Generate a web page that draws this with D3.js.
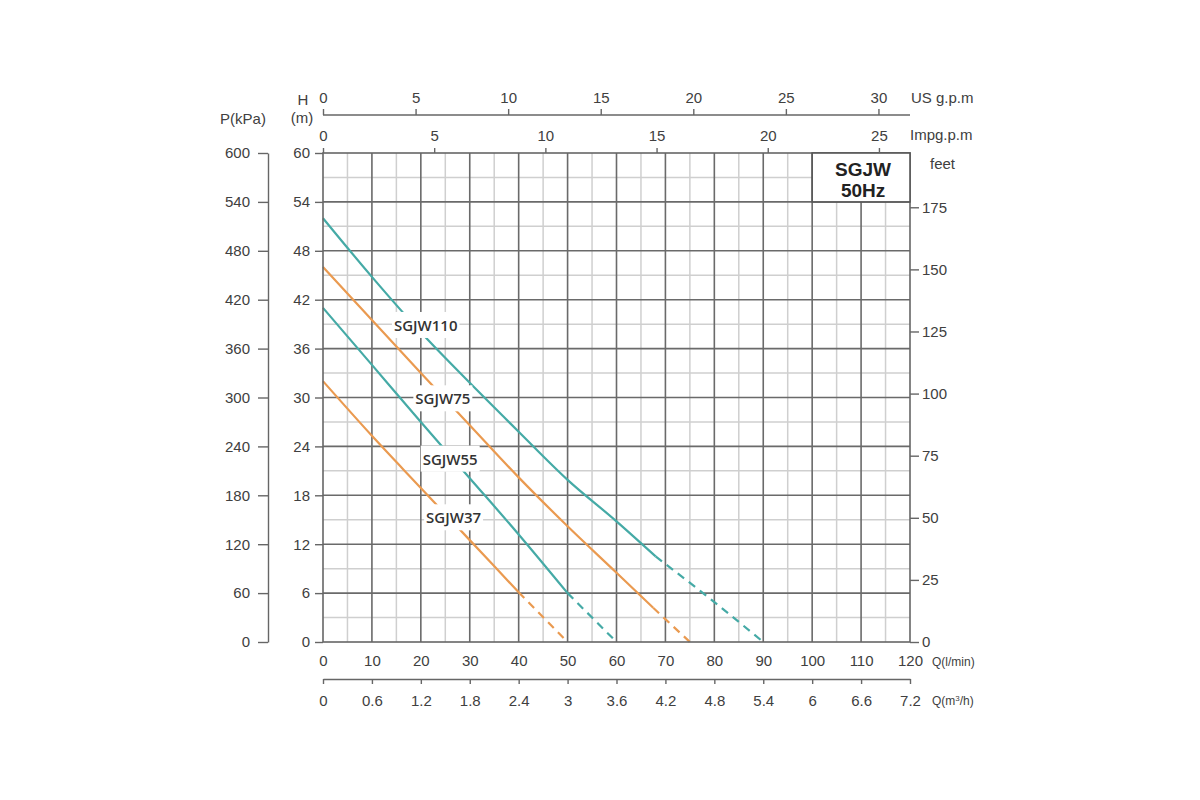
<!DOCTYPE html>
<html>
<head>
<meta charset="utf-8">
<script src="https://cdn.jsdelivr.net/npm/d3@7"></script>
<style>
    body { margin: 0; background: #ffffff; }
    text { font-family: "Liberation Sans", Arial, sans-serif; }
</style>
</head>
<body>
<svg id="pumpSvg" width="1200" height="800"></svg>
<script>
// Pump curves, head H (m) against flow Q (l/min)
const models = ["SGJW110", "SGJW75", "SGJW55", "SGJW37"];
const modelColors = ["#45aaa6", "#ea9a50", "#45aaa6", "#ea9a50"];

const q110 = [0, 10, 20, 30, 40, 50, 60, 68, 80, 90];
const h110 = [52, 44.8, 38, 31.8, 25.8, 19.9, 14.8, 10.5, 4.9, 0];
const q75 = [0, 10, 20, 30, 40, 50, 60, 67.5, 75];
const h75 = [46, 39.5, 33, 26.6, 20.2, 14.2, 8.5, 4.2, 0];
const q55 = [0, 10, 20, 30, 40, 50, 60];
const h55 = [41, 34, 27, 20.1, 13.2, 6, 0];
const q37 = [0, 10, 20, 30, 40, 50];
const h37 = [32, 25.3, 18.9, 12.5, 6.1, 0];

// flow where each curve turns dashed
const dashFrom = [68, 67.5, 50, 40];

// tick labels
const qTicks = [0, 10, 20, 30, 40, 50, 60, 70, 80, 90, 100, 110, 120];
const m3hTicks = [0, 0.6, 1.2, 1.8, 2.4, 3, 3.6, 4.2, 4.8, 5.4, 6, 6.6, 7.2];
const hTicks = [0, 6, 12, 18, 24, 30, 36, 42, 48, 54, 60];
const pTicks = [0, 60, 120, 180, 240, 300, 360, 420, 480, 540, 600];
const feetTicks = [0, 25, 50, 75, 100, 125, 150, 175];
const usTicks = [0, 5, 10, 15, 20, 25, 30];
const impTicks = [0, 5, 10, 15, 20, 25];

// unit conversions
const LPM_PER_USGPM = 3.785;
const LPM_PER_IMPGPM = 4.546;
const M_PER_FOOT = 0.3048;

const curveQ = [q110, q75, q55, q37];
const curveH = [h110, h75, h55, h37];

// label spots (l/min, m) for each curve name
const labelQ = [21, 24.5, 26, 26.7];
const labelH = [38.9, 29.9, 22.5, 15.3];

const svg = d3.select("#pumpSvg");

// plot area
const plotLeft = 323, plotRight = 910, plotTop = 153, plotBottom = 642;

const x = d3.scaleLinear().domain([0, 120]).range([plotLeft, plotRight]);
const y = d3.scaleLinear().domain([0, 60]).range([plotBottom, plotTop]);
const yP = d3.scaleLinear().domain([0, 600]).range([plotBottom, plotTop]);
const yFeet = d3.scaleLinear().domain([0, 60 / M_PER_FOOT]).range([plotBottom, plotTop]);
const xM3h = d3.scaleLinear().domain([0, 7.2]).range([plotLeft, plotRight]);
const xUs = d3.scaleLinear().domain([0, 120 / LPM_PER_USGPM]).range([plotLeft, plotRight]);
const xImp = d3.scaleLinear().domain([0, 120 / LPM_PER_IMPGPM]).range([plotLeft, plotRight]);

const textColor = "#404040";

// Grid: minor lines first, then major ones
const grid = svg.append("g");
d3.range(5, 120, 10).forEach(v => {
    grid.append("line")
        .attr("x1", x(v)).attr("x2", x(v))
        .attr("y1", plotTop).attr("y2", plotBottom)
        .attr("stroke", "#cfcfcf").attr("stroke-width", 1.5);
});
d3.range(3, 60, 6).forEach(v => {
    grid.append("line")
        .attr("x1", plotLeft).attr("x2", plotRight)
        .attr("y1", y(v)).attr("y2", y(v))
        .attr("stroke", "#cfcfcf").attr("stroke-width", 1.5);
});
qTicks.slice(1, -1).forEach(v => {
    grid.append("line")
        .attr("x1", x(v)).attr("x2", x(v))
        .attr("y1", plotTop).attr("y2", plotBottom)
        .attr("stroke", "#6a6a6a").attr("stroke-width", 1.6);
});
hTicks.slice(1, -1).forEach(v => {
    grid.append("line")
        .attr("x1", plotLeft).attr("x2", plotRight)
        .attr("y1", y(v)).attr("y2", y(v))
        .attr("stroke", "#6a6a6a").attr("stroke-width", 1.6);
});

// Pump curves
const line = d3.line()
    .x(d => x(d.q))
    .y(d => y(d.h))
    .curve(d3.curveMonotoneX);

models.forEach((name, i) => {
    const pts = curveQ[i].map((q, j) => ({ q: q, h: curveH[i][j] }));
    const solid = pts.filter(d => d.q <= dashFrom[i]);
    const dashed = pts.filter(d => d.q >= dashFrom[i]);

    svg.append("path")
        .datum(solid)
        .attr("fill", "none")
        .attr("stroke", modelColors[i])
        .attr("stroke-width", 2.2)
        .attr("d", line);

    svg.append("path")
        .datum(dashed)
        .attr("fill", "none")
        .attr("stroke", modelColors[i])
        .attr("stroke-width", 2.2)
        .attr("stroke-dasharray", "8,6")
        .attr("d", line);
});

// Curve names on white patches
models.forEach((name, i) => {
    const g = svg.append("g");
    const bg = g.append("rect").attr("fill", "#ffffff");
    const t = g.append("text")
        .attr("x", x(labelQ[i]))
        .attr("y", y(labelH[i]))
        .attr("text-anchor", "middle")
        .attr("dominant-baseline", "central")
        .style("font-family", "'Open Sans', sans-serif")
        .style("font-size", "15px")
        .style("font-weight", "600")
        .attr("fill", "#333")
        .text(name);
    const b = t.node().getBBox();
    bg.attr("x", b.x - 2).attr("y", b.y - 3)
        .attr("width", b.width + 4).attr("height", b.height + 6);
});

// Frame
svg.append("rect")
    .attr("x", plotLeft).attr("y", plotTop)
    .attr("width", plotRight - plotLeft).attr("height", plotBottom - plotTop)
    .attr("fill", "none")
    .attr("stroke", "#666").attr("stroke-width", 1.6);

// Model box, top right
svg.append("rect")
    .attr("x", x(100)).attr("y", y(60))
    .attr("width", x(120) - x(100)).attr("height", y(54) - y(60))
    .attr("fill", "#ffffff")
    .attr("stroke", "#555").attr("stroke-width", 1.6);
["SGJW", "50Hz"].forEach((s, i) => {
    svg.append("text")
        .attr("x", (x(100) + x(120)) / 2 + 2)
        .attr("y", 176 + i * 21)
        .attr("text-anchor", "middle")
        .style("font-size", "19px")
        .style("font-weight", "bold")
        .attr("fill", "#222")
        .text(s);
});

// Axis styling helper
function styleAxis(g, fontSize) {
    g.selectAll("text")
        .attr("fill", textColor)
        .style("font-family", "'Liberation Sans', Arial, sans-serif")
        .style("font-size", fontSize || "15px");
    g.selectAll("line").attr("stroke", "#666").attr("stroke-width", 1.4);
    g.selectAll("path.domain").attr("stroke", "#666").attr("stroke-width", 1.4);
}

// Left H axis
svg.append("g")
    .attr("transform", `translate(${plotLeft},0)`)
    .call(d3.axisLeft(y).tickValues(hTicks).tickSize(8).tickPadding(5))
    .call(g => g.select(".domain").remove())
    .call(g => styleAxis(g));

// Left P(kPa) axis
svg.append("g")
    .attr("transform", "translate(268,0)")
    .call(d3.axisLeft(yP).tickValues(pTicks).tickSize(10).tickSizeOuter(0).tickPadding(8))
    .call(g => styleAxis(g));

// Right feet axis
svg.append("g")
    .attr("transform", `translate(${plotRight},0)`)
    .call(d3.axisRight(yFeet).tickValues(feetTicks).tickSize(9).tickPadding(3))
    .call(g => g.select(".domain").remove())
    .call(g => styleAxis(g));

// Bottom l/min labels
svg.append("g")
    .attr("transform", `translate(0,${plotBottom})`)
    .call(d3.axisBottom(x).tickValues(qTicks).tickSize(0).tickPadding(13))
    .call(g => g.select(".domain").remove())
    .call(g => styleAxis(g));

// Bottom m3/h axis
svg.append("g")
    .attr("transform", "translate(0,679)")
    .call(d3.axisBottom(xM3h).tickValues(m3hTicks).tickSize(5).tickSizeOuter(0).tickPadding(11)
        .tickFormat(d3.format("~g")))
    .call(g => styleAxis(g));

// Top US g.p.m axis
svg.append("g")
    .attr("transform", "translate(0,115)")
    .call(d3.axisTop(xUs).tickValues(usTicks).tickSize(6).tickSizeOuter(0).tickPadding(6))
    .call(g => g.select(".domain").attr("d", `M${plotLeft},0H${plotRight}`))
    .call(g => styleAxis(g));

// Top Imp g.p.m ticks on the frame
svg.append("g")
    .attr("transform", `translate(0,${plotTop})`)
    .call(d3.axisTop(xImp).tickValues(impTicks).tickSize(5).tickPadding(7))
    .call(g => g.select(".domain").remove())
    .call(g => styleAxis(g));

// Unit labels
function unitLabel(tx, ty, s, size, anchor) {
    return svg.append("text")
        .attr("x", tx).attr("y", ty)
        .attr("text-anchor", anchor || "start")
        .attr("fill", textColor)
        .style("font-size", size)
        .text(s);
}
unitLabel(243, 124, "P(kPa)", "15px", "middle");
unitLabel(303, 105, "H", "15px", "middle");
unitLabel(302, 123, "(m)", "15px", "middle");
unitLabel(911, 103, "US g.p.m", "15px");
unitLabel(910, 140, "Impg.p.m", "15px");
unitLabel(930, 169, "feet", "15px");
unitLabel(932, 666, "Q(l/min)", "12px");
const m3 = unitLabel(932, 705, "Q(m", "12px");
m3.append("tspan").attr("baseline-shift", "super").style("font-size", "8px").text("3");
m3.append("tspan").text("/h)");
</script>
</body>
</html>
